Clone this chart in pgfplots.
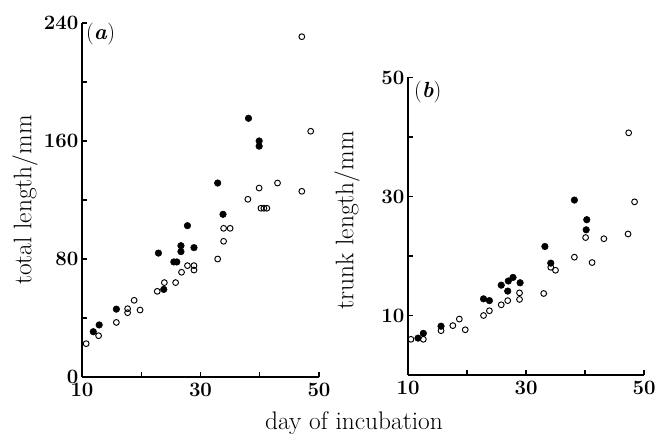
\documentclass[border=0pt]{standalone}
\usepackage{pgfplots}
\pgfplotsset{compat=1.18}
\pgfplotstableread{
x y
10.7 22.6
12.8 28
15.8 37
17.7 46.3
17.7 43.6
18.8 52
19.8 45.4
22.7 58.1
23.9 64
25.8 64
26.8 71
27.8 75.5
28.9 75.5
28.9 72.5
32.9 80
33.9 92
33.9 100.8
35.0 100.8
38.0 120.5
39.9 128.1
40.2 114.4
40.7 114.4
41.2 114.4
43.0 131.5
47.1 125.9
47.1 230.7
48.6 166.6
}\aopen
\pgfplotstableread{
x y
11.9 30.7
12.9 35.3
15.8 46
22.9 84
23.8 59.4
25.5 78
26.0 78
26.7 89
26.7 85
27.8 102.6
28.9 87.7
32.9 131.5
33.8 110.3
38.1 175.4
39.9 160
39.9 156.5
}\afilled
\pgfplotstableread{
x y
10.5 6.0
12.6 6.0
15.6 7.45
17.6 8.3
18.7 9.4
19.7 7.6
22.8 10.0
23.8 10.8
25.8 11.8
26.9 12.5
28.9 13.8
28.9 12.7
33.0 13.7
34.2 18.1
35.0 17.6
38.2 19.8
40.1 23.1
41.2 18.9
43.2 22.9
47.3 23.7
47.4 40.7
48.4 29.1
}\bopen
\pgfplotstableread{
x y
11.7 6.2
12.6 7.0
15.6 8.2
22.8 12.8
23.8 12.5
25.8 15.1
26.9 14.1
27.0 15.8
27.8 16.4
29.0 15.5
33.2 21.6
34.2 18.8
38.2 29.4
40.2 24.4
40.3 26.1
}\bfilled
\begin{document}
\begin{tikzpicture}
\path[use as bounding box] (0bp,0bp) rectangle (659bp,434bp);
\pgfplotsset{
 myax/.style={
  scale only axis,
  axis x line=bottom, axis y line=left,
  axis line style={-, line width=1.3bp},
  tick align=inside, major tick length=5bp, minor tick length=5bp,
  every tick/.style={black, line width=1.1bp},
  tick label style={font=\fontsize{20.5}{24}\selectfont\bfseries},
  xticklabel style={yshift=-3bp},
  /pgf/number format/assume math mode=true,
  label style={font=\fontsize{25.5}{29}\selectfont},
  xmin=10, xmax=50, xtick={10,30,50}, minor xtick={20,40},
  clip=false,
 },
 filledm/.style={only marks, mark=*, mark size=3.3bp, mark options={fill=black, draw=black, line width=0.5bp}},
 openm/.style={only marks, mark=o, mark size=2.9bp, mark options={draw=black, line width=0.95bp, fill=white}},
}
\begin{axis}[myax, at={(82bp,57bp)}, anchor=south west, width=237bp, height=354bp,
  ymin=0, ymax=240, ytick={0,80,160,240}, minor ytick={40,120,200},
  ylabel={total length/mm},
  ylabel style={at={(axis description cs:-0.24,0.5)}, anchor=center}]
\addplot[openm] table[x=x,y=y] {\aopen};
\addplot[filledm] table[x=x,y=y] {\afilled};
\node[anchor=north west, inner sep=0pt, font=\fontsize{22}{26}\selectfont] at (axis description cs:0.017,1) {(\textbf{\textit{a}})};
\end{axis}
\begin{axis}[myax, at={(408bp,59bp)}, anchor=south west, width=236bp, height=297.5bp,
  ymin=0, ymax=50, ytick={10,30,50}, minor ytick={20,40},
  ylabel={trunk length/mm},
  ylabel style={at={(axis description cs:-0.258,0.52)}, anchor=center}]
\addplot[openm] table[x=x,y=y] {\bopen};
\addplot[filledm] table[x=x,y=y] {\bfilled};
\node[anchor=north west, inner sep=0pt, font=\fontsize{22}{26}\selectfont] at (axis description cs:0.025,0.99) {(\textbf{\textit{b}})};
\end{axis}
\node[anchor=base, inner sep=0pt, font=\fontsize{25.5}{29}\selectfont] at (354bp,5bp) {day of incubation};
\end{tikzpicture}
\end{document}
